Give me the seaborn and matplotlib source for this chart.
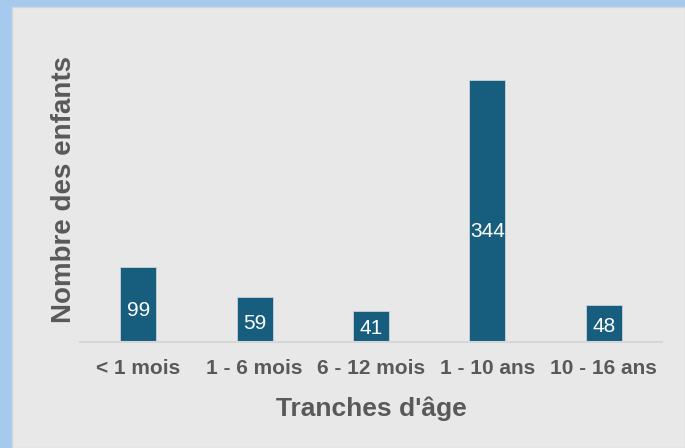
import pandas as pd
import matplotlib.pyplot as plt
import seaborn as sns
from matplotlib.patches import Rectangle

# Chart data
tranches = ['< 1 mois', '1 - 6 mois', '6 - 12 mois', '1 - 10 ans', '10 - 16 ans']
enfants = [99, 59, 41, 344, 48]

data = pd.DataFrame({'tranche': tranches, 'enfants': enfants})

sns.set_theme(style="white")
plt.rcParams['font.family'] = ['Liberation Sans', 'DejaVu Sans']

fig = plt.figure(figsize=(6.85, 4.48), dpi=100)
fig.patch.set_facecolor('#a6caee')
# gray chart area inside the blue frame
fig.patches.append(Rectangle((12 / 685, 0), 1 - 12 / 685, 1 - 7 / 448,
                             transform=fig.transFigure, facecolor='#e8e8e8',
                             edgecolor='#d4d8dc', linewidth=1, zorder=-10))

ax = fig.add_axes([80 / 685, 106 / 448, 582 / 685, 305 / 448])
ax.set_facecolor('none')
ax.set_zorder(5)

sns.barplot(data=data, x='tranche', y='enfants', color='#175e7e', width=0.31,
            edgecolor='#c9d3da', linewidth=0.6, saturation=1, ax=ax)

ax.set_ylim(0, 400)
for i, v in enumerate(enfants):
    ax.text(i, v * 0.42, str(v), ha='center', va='center', color='white', fontsize=15)

for side in ['top', 'right', 'left']:
    ax.spines[side].set_visible(False)
ax.spines['bottom'].set_color('#d6d6d6')
ax.spines['bottom'].set_linewidth(1.5)
ax.set_yticks([])
ax.tick_params(axis='x', length=0, pad=12, labelsize=15, labelcolor='#595959')
for lbl in ax.get_xticklabels():
    lbl.set_fontweight('bold')

ax.set_xlabel("Tranches d'âge", fontsize=19, fontweight='bold', color='#595959', va='top')
ax.xaxis.set_label_coords(0.5, -0.18)
ax.set_ylabel('Nombre des enfants', fontsize=20, fontweight='bold', color='#595959')
ax.yaxis.set_label_coords(-0.005, 0.5)

plt.savefig('out.png', dpi=100, facecolor=fig.get_facecolor())
